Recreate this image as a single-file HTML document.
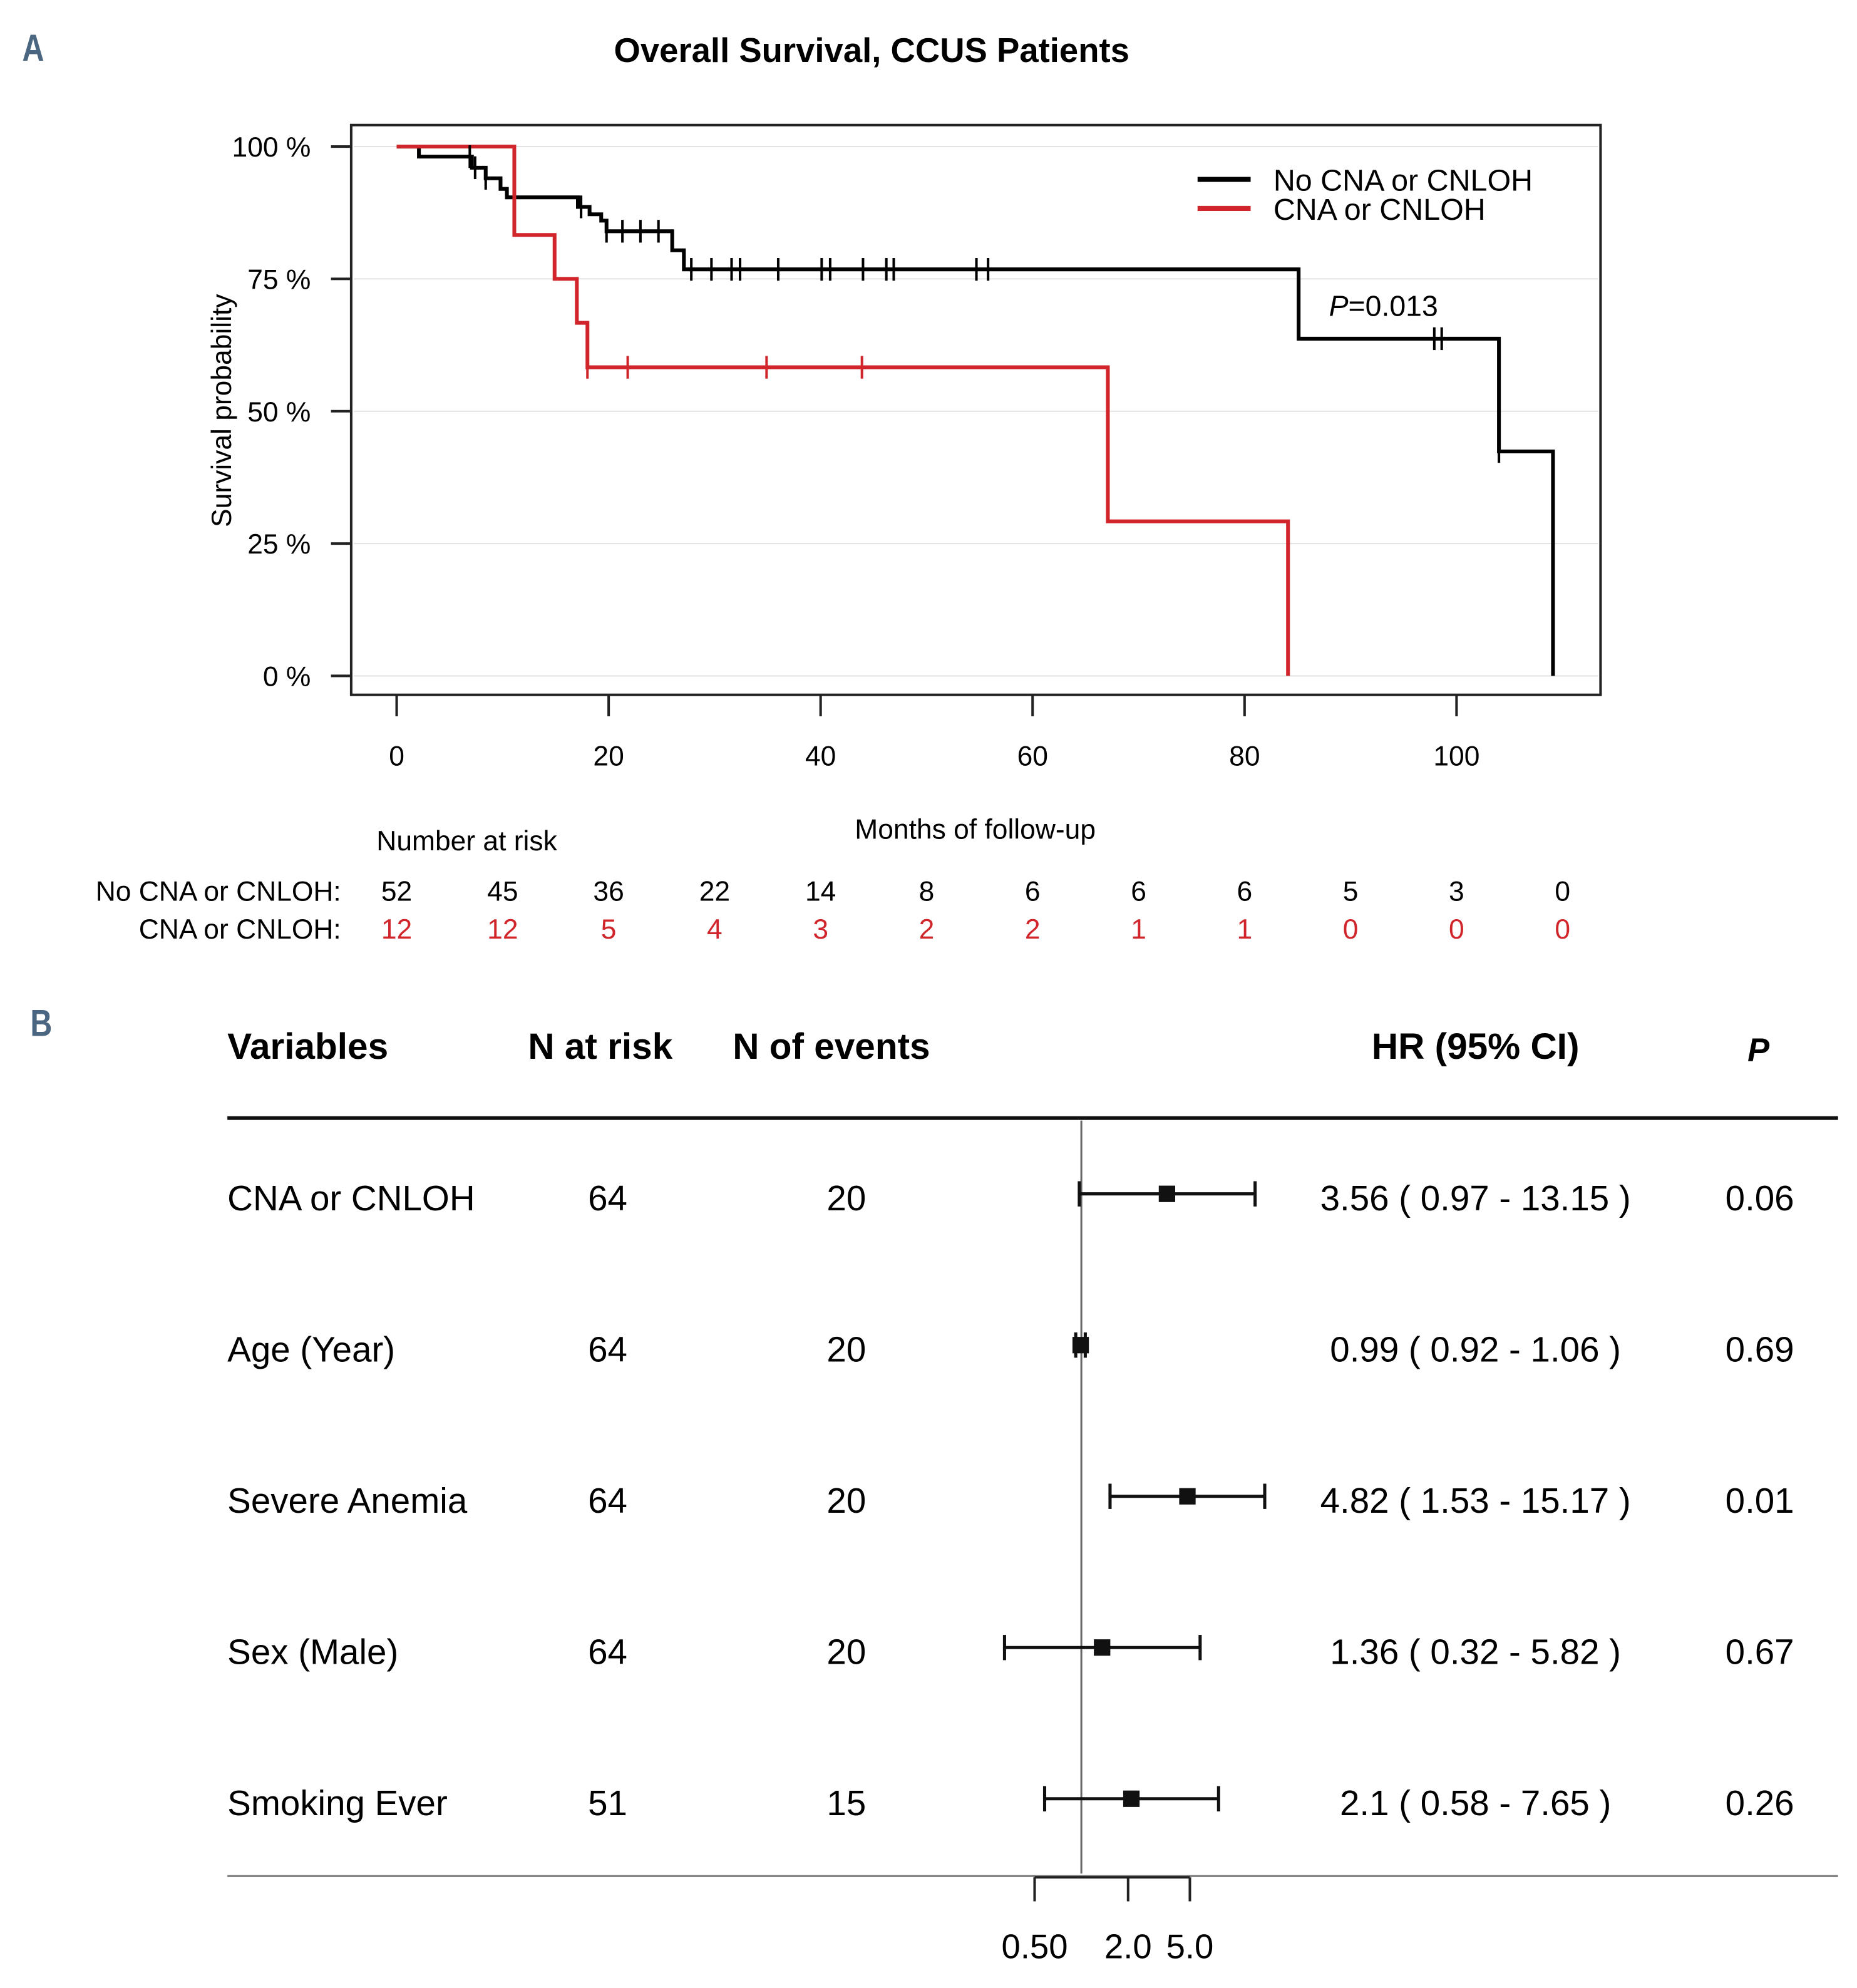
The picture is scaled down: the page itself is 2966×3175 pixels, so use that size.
<!DOCTYPE html>
<html><head><meta charset="utf-8"><style>
html,body{margin:0;padding:0;background:#fff;}
svg{display:block;}
text{font-family:"Liberation Sans",Arial,sans-serif;}
</style></head><body>
<svg id="fig" width="2966" height="3175" viewBox="0 0 1470 1573.6" preserveAspectRatio="none" xmlns="http://www.w3.org/2000/svg">
<rect width="1470" height="1573.6" fill="#fff"/>
<g id="panelA">
<text x="18" y="48" font-size="30" font-weight="bold" fill="#4a6680" transform="scale(0.8,1) translate(4,0)">A</text>
<text x="690" y="49" font-size="27" font-weight="bold" text-anchor="middle">Overall Survival, CCUS Patients</text>
<rect x="278" y="99" width="989" height="451" fill="none" stroke="#222" stroke-width="2"/>
<g id="grid"></g><g id="yaxis"></g><g id="xaxis"></g><g id="curves"></g>
<text transform="translate(183,325) rotate(-90)" font-size="22" text-anchor="middle">Survival probability</text>
<g>
<line x1="948" y1="142" x2="990" y2="142" stroke="#000" stroke-width="4"/>
<text x="1008" y="151" font-size="24">No CNA or CNLOH</text>
<line x1="948" y1="165" x2="990" y2="165" stroke="#d0262b" stroke-width="4"/>
<text x="1008" y="174" font-size="24">CNA or CNLOH</text>
</g>
<text x="1052" y="250" font-size="23"><tspan font-style="italic">P</tspan>=0.013</text>
<text x="772" y="664" font-size="22" text-anchor="middle">Months of follow-up</text>
<text x="298" y="673" font-size="22">Number at risk</text>
<text x="270" y="713" font-size="22" text-anchor="end">No CNA or CNLOH:</text>
<text x="270" y="743" font-size="22" text-anchor="end">CNA or CNLOH:</text>
<g id="risk"></g>
</g>
<g id="panelB">
<text x="24" y="820" font-size="30" font-weight="bold" fill="#4a6680" transform="scale(0.8,1) translate(6,0)">B</text>
<text x="180" y="838" font-size="29" font-weight="bold">Variables</text>
<text x="418" y="838" font-size="29" font-weight="bold">N at risk</text>
<text x="580" y="838" font-size="29" font-weight="bold">N of events</text>
<text x="1168" y="838" font-size="29" font-weight="bold" text-anchor="middle">HR (95% CI)</text>
<text x="1392" y="840" font-size="26" font-weight="bold" font-style="italic" text-anchor="middle">P</text>
<line x1="180" y1="885" x2="1455" y2="885" stroke="#111" stroke-width="3"/>
<line x1="180" y1="1485" x2="1455" y2="1485" stroke="#777" stroke-width="1.5"/>
<g id="forest"></g>
</g>
</svg>
<script>
// ---- Panel A data ----
const yTicks = [0, 25, 50, 75, 100];
const yTickLabels = ["0 %", "25 %", "50 %", "75 %", "100 %"];
const xTicks = [0, 20, 40, 60, 80, 100];
const blackTimes = [0, 2.1, 7.1, 8.4, 9.8, 10.4, 17.1, 18.2, 19.3, 19.8, 26, 27.1, 85.1, 104, 109.1];
const blackSurv = [100, 98.1, 96, 94, 92, 90.4, 88.6, 87.2, 86, 84, 80.4, 76.8, 63.7, 42.4, 0];
const blackCensor = [6.9, 7.4, 8.4, 17.4, 19.8, 21.3, 23, 24.7, 27.8, 29.7, 31.6, 32.4, 36, 40.1, 40.9, 44, 46.2, 46.9, 54.7, 55.8, 97.9, 98.6, 104];
const redTimes = [0, 11.1, 14.9, 17, 18, 67.1, 84.1];
const redSurv = [100, 83.3, 75, 66.7, 58.3, 29.2, 0];
const redCensor = [18, 21.8, 34.9, 43.9];
const riskTimes = [0, 10, 20, 30, 40, 50, 60, 70, 80, 90, 100, 110];
const riskNoCna = [52, 45, 36, 22, 14, 8, 6, 6, 6, 5, 3, 0];
const riskCna = [12, 12, 5, 4, 3, 2, 2, 1, 1, 0, 0, 0];
// ---- Panel B data ----
const variables = ["CNA or CNLOH", "Age (Year)", "Severe Anemia", "Sex (Male)", "Smoking Ever"];
const nAtRisk = [64, 64, 64, 64, 51];
const nEvents = [20, 20, 20, 20, 15];
const hr = [3.56, 0.99, 4.82, 1.36, 2.1];
const ciLo = [0.97, 0.92, 1.53, 0.32, 0.58];
const ciHi = [13.15, 1.06, 15.17, 5.82, 7.65];
const pvals = ["0.06", "0.69", "0.01", "0.67", "0.26"];
const hrTicks = [0.5, 2.0, 5.0];
const hrTickLabels = ["0.50", "2.0", "5.0"];

const NS = "http://www.w3.org/2000/svg";
function mk(tag, attrs, parent, txt) {
  const e = document.createElementNS(NS, tag);
  for (const k in attrs) e.setAttribute(k, attrs[k]);
  if (txt !== undefined) e.textContent = txt;
  parent.appendChild(e);
  return e;
}
const X = t => 314 + t * 8.39;
const Y = p => 535 - p * 4.19;

const grid = document.getElementById('grid');
const yaxis = document.getElementById('yaxis');
yTicks.forEach((v, i) => {
  const g = mk('line', {x1: 280, x2: 1265, y1: Y(v), y2: Y(v), stroke: '#e2e2e2', 'stroke-width': 1}, grid);
  
  
  const t = mk('line', {x1: 262, x2: 278, y1: Y(v), y2: Y(v), stroke: '#222', 'stroke-width': 2}, yaxis);
  
  
  const l = mk('text', {x: 246, y: Y(v) + 8, 'font-size': 22, 'text-anchor': 'end'}, yaxis, yTickLabels[i]);
  
  
});
const xaxis = document.getElementById('xaxis');
xTicks.forEach(v => {
  const t = mk('line', {x1: X(v), x2: X(v), y1: 550, y2: 567, stroke: '#222', 'stroke-width': 2}, xaxis);
  
  
  const l = mk('text', {x: X(v), y: 606, 'font-size': 22, 'text-anchor': 'middle'}, xaxis, String(v));
  
  
});

function stepPath(ts, ss) {
  let d = 'M' + X(ts[0]) + ' ' + Y(ss[0]);
  for (let i = 1; i < ts.length; i++) d += ' H' + X(ts[i]) + ' V' + Y(ss[i]);
  return d;
}
function survAt(ts, ss, t) {
  let s = ss[0];
  for (let i = 0; i < ts.length; i++) if (ts[i] <= t) s = ss[i];
  return s;
}
const curves = document.getElementById('curves');
const bp = mk('path', {d: stepPath(blackTimes, blackSurv), fill: 'none', stroke: '#000', 'stroke-width': 3}, curves);


const rp = mk('path', {d: stepPath(redTimes, redSurv), fill: 'none', stroke: '#d0262b', 'stroke-width': 3}, curves);


blackCensor.forEach(t => {
  const y = Y(survAt(blackTimes, blackSurv, t));
  const c = mk('line', {x1: X(t), x2: X(t), y1: y - 9, y2: y + 9, stroke: '#000', 'stroke-width': 2}, curves);
  
  
});
redCensor.forEach(t => {
  const y = Y(survAt(redTimes, redSurv, t));
  const c = mk('line', {x1: X(t), x2: X(t), y1: y - 9, y2: y + 9, stroke: '#d0262b', 'stroke-width': 2}, curves);
  
  
});

const risk = document.getElementById('risk');
riskTimes.forEach((t, i) => {
  const a = mk('text', {x: X(t), y: 713, 'font-size': 22, 'text-anchor': 'middle'}, risk, String(riskNoCna[i]));
  
  
  const b = mk('text', {x: X(t), y: 743, 'font-size': 22, 'text-anchor': 'middle', fill: '#d0262b'}, risk, String(riskCna[i]));
  
  
});

// ---- Panel B ----
const HX = v => 856 + 37 * Math.log2(v);
const rowY = i => 948 + i * 119.7;
const forest = document.getElementById('forest');
const ref = mk('line', {x1: HX(1), x2: HX(1), y1: 887, y2: 1483, stroke: '#666', 'stroke-width': 1.5}, forest);


const ax = mk('line', {x1: HX(hrTicks[0]), x2: HX(hrTicks[hrTicks.length - 1]), y1: 1486, y2: 1486, stroke: '#222', 'stroke-width': 2}, forest);


hrTicks.forEach((v, i) => {
  const t = mk('line', {x1: HX(v), x2: HX(v), y1: 1486, y2: 1505, stroke: '#222', 'stroke-width': 2}, forest);
  
  
  const l = mk('text', {x: HX(v), y: 1550, 'font-size': 27, 'text-anchor': 'middle'}, forest, hrTickLabels[i]);
  
  
});
variables.forEach((name, i) => {
  const y = rowY(i);
  const a = mk('text', {x: 180, y: y + 10, 'font-size': 28}, forest, name);
  
  
  const b = mk('text', {x: 481, y: y + 10, 'font-size': 28, 'text-anchor': 'middle'}, forest, String(nAtRisk[i]));
  
  
  const c = mk('text', {x: 670, y: y + 10, 'font-size': 28, 'text-anchor': 'middle'}, forest, String(nEvents[i]));
  
  
  const d = mk('text', {x: 1168, y: y + 10, 'font-size': 28, 'text-anchor': 'middle'}, forest, hr[i] + ' ( ' + ciLo[i] + ' - ' + ciHi[i] + ' )');
  
  
  const e = mk('text', {x: 1393, y: y + 10, 'font-size': 28, 'text-anchor': 'middle'}, forest, pvals[i]);
  
  
  const ci = mk('line', {x1: HX(ciLo[i]), x2: HX(ciHi[i]), y1: y - 3, y2: y - 3, stroke: '#111', 'stroke-width': 2.5}, forest);
  
  
  [ciLo[i], ciHi[i]].forEach(v => {
    const cap = mk('line', {x1: HX(v), x2: HX(v), y1: y - 13, y2: y + 7, stroke: '#111', 'stroke-width': 2.5}, forest);
    
    
  });
  const sq = mk('rect', {x: HX(hr[i]) - 6.5, y: y - 9.5, width: 13, height: 13, fill: '#111'}, forest);
  
  
});
</script>
</body></html>
